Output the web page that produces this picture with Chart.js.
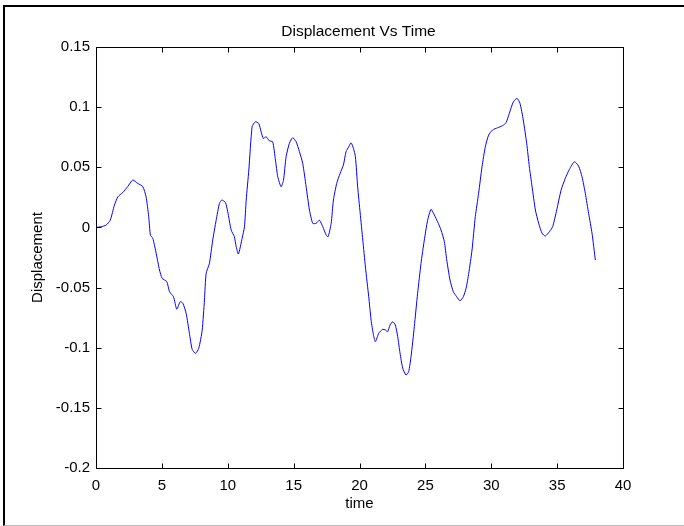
<!DOCTYPE html>
<html>
<head>
<meta charset="utf-8">
<title>Displacement Vs Time</title>
<script src="https://cdn.jsdelivr.net/npm/chart.js@4.4.1/dist/chart.umd.min.js"></script>
<style>
    html, body { margin: 0; padding: 0; background: #fff; overflow: hidden; }
    #wrap { position: relative; width: 684px; height: 526px; }
    #frame {
        position: absolute; left: 3px; top: 5px; width: 700px; height: 518px;
        border-left: 2px solid #000; border-top: 2px solid #000; border-bottom: 1px solid #bbb;
        pointer-events: none;
    }
    #displacement-chart { position: absolute; left: 0; top: 0; }
</style>
</head>
<body>
<div id="wrap">
    <canvas id="displacement-chart" width="684" height="526"></canvas>
    <div id="frame"></div>
</div>
<script>
const $ = document.querySelector.bind(document)
const ctx = $("#displacement-chart")

const timeVals = [
    0, 0.39, 0.77, 1.08, 1.4, 1.66, 2.03, 2.41, 2.79, 3.17, 3.55, 3.8, 4.0, 4.13, 4.31, 4.57, 4.82,
    5.02, 5.37, 5.58, 5.88, 6.13, 6.39, 6.59, 6.84, 7.09, 7.3, 7.55, 7.8, 8.06, 8.23, 8.36, 8.61, 8.86,
    9.12, 9.37, 9.55, 9.83, 10.0, 10.26, 10.5, 10.64, 10.81, 11.09, 11.27, 11.4, 11.6, 11.85, 12.1,
    12.35, 12.53, 12.7, 12.91, 13.16, 13.41, 13.62, 13.8, 14.05, 14.23, 14.43, 14.68, 14.93, 15.19,
    15.44, 15.69, 15.95, 16.2, 16.45, 16.71, 16.96, 17.21, 17.47, 17.62, 17.85, 18.02, 18.27, 18.53,
    18.78, 18.98, 19.18, 19.36, 19.54, 19.69, 19.86, 20.05, 20.25, 20.45, 20.7, 20.88, 21.06, 21.21,
    21.46, 21.76, 21.97, 22.14, 22.32, 22.52, 22.72, 22.9, 23.08, 23.28, 23.53, 23.73, 23.91, 24.16,
    24.41, 24.67, 24.92, 25.17, 25.43, 25.68, 25.93, 26.19, 26.44, 26.62, 26.87, 27.12, 27.38, 27.63,
    27.88, 28.09, 28.29, 28.54, 28.79, 29.04, 29.3, 29.55, 29.8, 30.1, 30.49, 30.86, 31.12, 31.37,
    31.68, 31.96, 32.18, 32.43, 32.69, 32.89, 33.1, 33.35, 33.6, 33.86, 34.1, 34.41, 34.66, 34.97,
    35.3, 35.62, 35.93, 36.31, 36.63, 36.89, 37.14, 37.39, 37.65, 37.9
]

const dispVals = [
    0, 0.0006, 0.002, 0.006, 0.0186, 0.0255, 0.029, 0.034, 0.0394, 0.0366, 0.034, 0.0255, 0.009,
    -0.0063, -0.009, -0.0216, -0.0354, -0.0423, -0.045, -0.0535, -0.0576, -0.068, -0.0617, -0.063,
    -0.0714, -0.088, -0.1014, -0.1047, -0.1005, -0.0853, -0.0603, -0.0382, -0.0298, -0.0105, 0.006,
    0.02, 0.0228, 0.0206, 0.013, -0.0022, -0.0077, -0.016, -0.0221, -0.009, 0.0006, 0.0228, 0.0477,
    0.0837, 0.0879, 0.0865, 0.0796, 0.074, 0.0754, 0.072, 0.0712, 0.056, 0.042, 0.0338, 0.0394,
    0.0588, 0.07, 0.0746, 0.0712, 0.063, 0.0533, 0.0338, 0.0145, 0.0034, 0.0034, 0.006, 0.0006,
    -0.0063, -0.0077, 0.0034, 0.0228, 0.0366, 0.045, 0.052, 0.063, 0.067, 0.0704, 0.0657, 0.0588,
    0.0338, 0.012, -0.0105, -0.033, -0.0576, -0.077, -0.0894, -0.095, -0.088, -0.0847, -0.0853,
    -0.0867, -0.0811, -0.0784, -0.0811, -0.0908, -0.1047, -0.117, -0.1227, -0.12, -0.1075, -0.0825,
    -0.0548, -0.0298, -0.0105, 0.006, 0.015, 0.0103, 0.0047, -0.0022, -0.0119, -0.027, -0.0437,
    -0.0535, -0.0576, -0.061, -0.0576, -0.0506, -0.0382, -0.0188, 0.009, 0.0283, 0.0505, 0.067,
    0.0768, 0.081, 0.0829, 0.0846, 0.087, 0.0948, 0.1045, 0.1073, 0.1032, 0.0893, 0.07, 0.0505,
    0.0338, 0.0145, 0.0034, -0.0049, -0.0072, -0.0036, 0.0006, 0.0145, 0.031, 0.0408, 0.0483,
    0.0546, 0.051, 0.0421, 0.0283, 0.0117, -0.0049, -0.0271
]

const xTicks = [0, 5, 10, 15, 20, 25, 30, 35, 40]
const yTicks = [-0.2, -0.15, -0.1, -0.05, 0, 0.05, 0.1, 0.15]

const font = { family: "'Liberation Sans', Arial, sans-serif", size: 15 }

// box round the plot, inward tick marks on all four sides, and the texts
const matlabAxes = {
    id: "matlabAxes",
    afterDraw(chart) {
        const { ctx: c, chartArea: a, scales } = chart
        const L = a.left + 0.5, R = a.right + 0.5, T = a.top + 0.5, B = a.bottom + 0.5
        const len = 5

        c.save()
        c.strokeStyle = "#000"
        c.lineWidth = 1
        c.beginPath()
        c.rect(L, T, R - L, B - T)

        scales.x.ticks.forEach(t => {
            const px = Math.round(scales.x.getPixelForValue(t.value)) + 0.5
            c.moveTo(px, B); c.lineTo(px, B - len)
            c.moveTo(px, T); c.lineTo(px, T + len)
        })
        scales.y.ticks.forEach(t => {
            const py = Math.round(scales.y.getPixelForValue(t.value)) + 0.5
            c.moveTo(L, py); c.lineTo(L + len, py)
            c.moveTo(R, py); c.lineTo(R - len, py)
        })
        c.stroke()

        c.fillStyle = "#000"
        c.textAlign = "center"
        c.textBaseline = "middle"
        const cx = (a.left + a.right) / 2
        c.font = `15.5px ${font.family}`
        c.fillText("Displacement Vs Time", cx - 1, 32)
        c.font = `${font.size}px ${font.family}`
        c.fillText("time", cx, 504)

        c.translate(38, (a.top + a.bottom) / 2)
        c.rotate(-Math.PI / 2)
        c.fillText("Displacement", 0, 0)
        c.restore()
    }
}

new Chart(ctx, {
    type: "line",
    data: {
        datasets: [{
            data: timeVals.map((t, i) => ({ x: t, y: dispVals[i] })),
            borderColor: "#0000ff",
            borderWidth: 1,
            pointRadius: 0,
            tension: 0.2,
            fill: false,
        }]
    },
    options: {
        responsive: false,
        animation: false,
        layout: {
            padding: { top: 47, right: 61, left: 0, bottom: 0 }
        },
        scales: {
            x: {
                type: "linear",
                min: 0,
                max: 40,
                afterFit: scale => { scale.height = 58 },
                afterBuildTicks: scale => { scale.ticks = xTicks.map(v => ({ value: v })) },
                grid: { display: false, drawTicks: false },
                border: { display: false },
                ticks: {
                    color: "#000",
                    font,
                    padding: 9,
                    maxRotation: 0,
                    callback: v => `${v}`,
                }
            },
            y: {
                min: -0.2,
                max: 0.15,
                afterFit: scale => { scale.width = 96 },
                afterBuildTicks: scale => { scale.ticks = yTicks.map(v => ({ value: v })) },
                grid: { display: false, drawTicks: false },
                border: { display: false },
                ticks: {
                    color: "#000",
                    font,
                    padding: 6,
                    callback: v => `${parseFloat(v.toFixed(2))}`,
                }
            }
        },
        plugins: {
            legend: { display: false },
            tooltip: { enabled: false },
        }
    },
    plugins: [matlabAxes]
})
</script>
</body>
</html>
